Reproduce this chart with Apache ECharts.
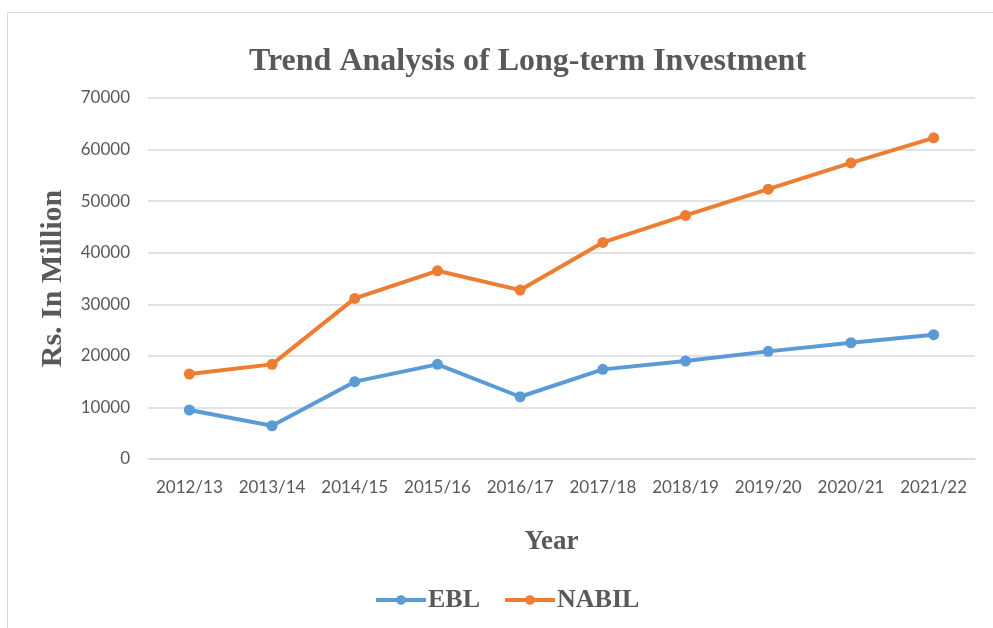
<!DOCTYPE html>
<html>
<head>
<meta charset="utf-8">
<script src="https://cdn.jsdelivr.net/npm/echarts@6/dist/echarts.min.js"></script>
<style>html,body{margin:0;padding:0;background:#fff;}#c{width:993px;height:628px;}</style>
</head>
<body>
<div id="c"></div>
<script>
const categories = ['2012/13','2013/14','2014/15','2015/16','2016/17','2017/18','2018/19','2019/20','2020/21','2021/22'];
const ebl = [9500, 6450, 15000, 18350, 12070, 17380, 19000, 20870, 22540, 24100];
const nabil = [16470, 18350, 31140, 36490, 32750, 42000, 47230, 52330, 57420, 62270];
const yTicks = [0, 10000, 20000, 30000, 40000, 50000, 60000, 70000];

const chart = echarts.init(document.getElementById('c'));
const serif = '"Liberation Serif", "DejaVu Serif", serif';
chart.setOption({
  animation: false,
  backgroundColor: '#fff',
  graphic: [{
    type: 'rect', left: 5, top: 10, shape: {width: 990, height: 620},
    style: {fill: 'none', stroke: '#d9d9d9', lineWidth: 1}, silent: true
  }],
  title: {
    text: 'Trend Analysis of Long-term Investment',
    left: 244, top: 41,
    textStyle: {fontFamily: serif, fontWeight: 'bold', fontSize: 32, color: '#595959'}
  },
  legend: {
    data: ['EBL', 'NABIL'],
    bottom: 10, left: 369,
    itemWidth: 50, itemHeight: 12, itemGap: 23,
    lineStyle: {width: 4},
    textStyle: {fontFamily: serif, fontWeight: 'bold', fontSize: 26, color: '#595959', padding: [0, 0, 0, -3]}
  },
  grid: {left: 148, right: 18, top: 98, bottom: 169, containLabel: false},
  xAxis: {
    type: 'category', data: categories, boundaryGap: true,
    name: 'Year', nameLocation: 'middle', nameGap: 70,
    nameTextStyle: {fontFamily: serif, fontWeight: 'bold', fontSize: 27, color: '#595959', padding: [0, 20, 0, 0]},
    axisLine: {lineStyle: {color: '#d9d9d9', width: 1.5}},
    axisTick: {show: false},
    axisLabel: {fontFamily: 'Lato, "Open Sans", sans-serif', fontSize: 17, color: '#595959', margin: 20, interval: 0}
  },
  yAxis: {
    type: 'value', min: 0, max: 70000, interval: 10000,
    name: 'Rs. In Million', nameLocation: 'middle', nameGap: 80, nameRotate: 90,
    nameTextStyle: {fontFamily: serif, fontWeight: 'bold', fontSize: 30, color: '#595959'},
    axisLine: {show: false}, axisTick: {show: false},
    splitLine: {lineStyle: {color: '#d9d9d9', width: 1.5}},
    axisLabel: {fontFamily: 'Lato, "Open Sans", sans-serif', fontSize: 17, color: '#595959', margin: 18,
      formatter: v => yTicks.includes(v) ? String(v) : ''}
  },
  series: [
    {name: 'EBL', type: 'line', data: ebl, symbol: 'circle', symbolSize: 11,
     itemStyle: {color: '#5B9BD5'}, lineStyle: {color: '#5B9BD5', width: 4}},
    {name: 'NABIL', type: 'line', data: nabil, symbol: 'circle', symbolSize: 11,
     itemStyle: {color: '#ED7D31'}, lineStyle: {color: '#ED7D31', width: 4}}
  ]
});
</script>
</body>
</html>
